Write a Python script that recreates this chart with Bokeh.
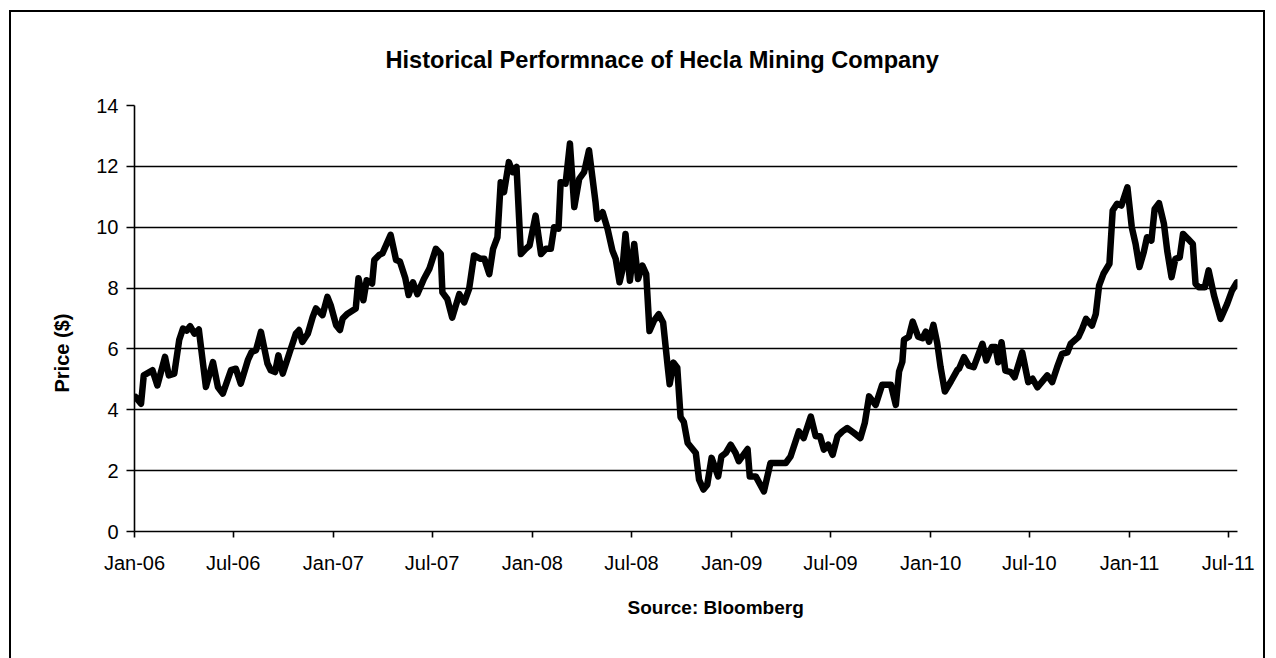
import pandas as pd
from bokeh.plotting import figure
from bokeh.models import FixedTicker, DatetimeTickFormatter, Range1d, Title
from bokeh.embed import file_html
from bokeh.resources import INLINE

dates = [
    "2006-01-03", "2006-01-13", "2006-01-18", "2006-02-03", "2006-02-12", "2006-02-26", "2006-03-05",
    "2006-03-15", "2006-03-24", "2006-03-31", "2006-04-07", "2006-04-13", "2006-04-21", "2006-04-29",
    "2006-05-12", "2006-05-25", "2006-06-03", "2006-06-12", "2006-06-27", "2006-07-06", "2006-07-15",
    "2006-07-28", "2006-08-04", "2006-08-12", "2006-08-21", "2006-09-02", "2006-09-08", "2006-09-16",
    "2006-09-22", "2006-09-30", "2006-10-12", "2006-10-24", "2006-10-30", "2006-11-05", "2006-11-15",
    "2006-11-24", "2006-11-30", "2006-12-12", "2006-12-21", "2006-12-27", "2007-01-06", "2007-01-13",
    "2007-01-18", "2007-01-27", "2007-02-11", "2007-02-16", "2007-02-25", "2007-03-03", "2007-03-13",
    "2007-03-17", "2007-03-26", "2007-04-01", "2007-04-16", "2007-04-26", "2007-05-03", "2007-05-13",
    "2007-05-19", "2007-05-27", "2007-06-04", "2007-06-16", "2007-06-26", "2007-07-08", "2007-07-17",
    "2007-07-20", "2007-07-29", "2007-08-07", "2007-08-20", "2007-08-29", "2007-09-07", "2007-09-16",
    "2007-09-28", "2007-10-05", "2007-10-14", "2007-10-21", "2007-10-29", "2007-11-04", "2007-11-10",
    "2007-11-19", "2007-11-26", "2007-12-03", "2007-12-11", "2007-12-20", "2007-12-27", "2008-01-07",
    "2008-01-17", "2008-01-26", "2008-02-04", "2008-02-10", "2008-02-18", "2008-02-22", "2008-03-02",
    "2008-03-10", "2008-03-18", "2008-03-27", "2008-04-05", "2008-04-14", "2008-04-26", "2008-04-29",
    "2008-05-09", "2008-05-18", "2008-05-27", "2008-06-02", "2008-06-09", "2008-06-14", "2008-06-20",
    "2008-06-28", "2008-07-06", "2008-07-13", "2008-07-21", "2008-07-28", "2008-08-03", "2008-08-11",
    "2008-08-20", "2008-08-28", "2008-09-05", "2008-09-09", "2008-09-16", "2008-09-23", "2008-09-29",
    "2008-10-05", "2008-10-12", "2008-10-27", "2008-11-02", "2008-11-10", "2008-11-17", "2008-11-25",
    "2008-12-07", "2008-12-13", "2008-12-21", "2008-12-30", "2009-01-08", "2009-01-14", "2009-01-30",
    "2009-02-03", "2009-02-14", "2009-03-01", "2009-03-13", "2009-03-23", "2009-04-10", "2009-04-19",
    "2009-05-04", "2009-05-13", "2009-05-26", "2009-06-04", "2009-06-12", "2009-06-19", "2009-06-27",
    "2009-07-05", "2009-07-14", "2009-07-23", "2009-08-01", "2009-08-13", "2009-08-25", "2009-09-02",
    "2009-09-10", "2009-09-22", "2009-10-04", "2009-10-20", "2009-10-29", "2009-11-04", "2009-11-10",
    "2009-11-13", "2009-11-22", "2009-11-29", "2009-12-09", "2009-12-17", "2009-12-23", "2009-12-29",
    "2010-01-06", "2010-01-13", "2010-01-19", "2010-01-27", "2010-02-07", "2010-02-19", "2010-02-22",
    "2010-03-03", "2010-03-12", "2010-03-21", "2010-04-06", "2010-04-13", "2010-04-23", "2010-04-30",
    "2010-05-05", "2010-05-11", "2010-05-18", "2010-05-28", "2010-06-04", "2010-06-18", "2010-06-29",
    "2010-07-07", "2010-07-16", "2010-07-26", "2010-08-03", "2010-08-12", "2010-08-21", "2010-08-30",
    "2010-09-09", "2010-09-15", "2010-09-29", "2010-10-06", "2010-10-13", "2010-10-24", "2010-10-31",
    "2010-11-06", "2010-11-14", "2010-11-25", "2010-12-01", "2010-12-09", "2010-12-17", "2010-12-28",
    "2011-01-05", "2011-01-12", "2011-01-19", "2011-01-27", "2011-02-02", "2011-02-10", "2011-02-16",
    "2011-02-24", "2011-03-05", "2011-03-11", "2011-03-19", "2011-03-26", "2011-04-03", "2011-04-09",
    "2011-04-18", "2011-04-27", "2011-05-02", "2011-05-08", "2011-05-19", "2011-05-26", "2011-06-05",
    "2011-06-17", "2011-06-29", "2011-07-08", "2011-07-17",
]

prices = [
    4.42, 4.20, 5.13, 5.30, 4.80, 5.74, 5.13,
    5.19, 6.29, 6.67, 6.60, 6.75, 6.50, 6.64,
    4.75, 5.57, 4.75, 4.53, 5.30, 5.35, 4.86,
    5.63, 5.90, 5.96, 6.56, 5.52, 5.30, 5.24,
    5.79, 5.19, 5.85, 6.50, 6.62, 6.23, 6.50,
    7.05, 7.33, 7.11, 7.71, 7.44, 6.78, 6.62,
    7.00, 7.16, 7.33, 8.32, 7.60, 8.26, 8.15,
    8.92, 9.09, 9.14, 9.75, 8.92, 8.87, 8.32,
    7.77, 8.19, 7.80, 8.30, 8.63, 9.29, 9.12,
    7.86, 7.64, 7.03, 7.80, 7.53, 7.97, 9.07,
    8.96, 8.96, 8.46, 9.29, 9.67, 11.48, 11.15,
    12.14, 11.81, 11.98, 9.12, 9.29, 9.40, 10.38,
    9.12, 9.29, 9.29, 10.00, 9.95, 11.48, 11.43,
    12.75, 10.66, 11.59, 11.81, 12.53, 10.82, 10.27,
    10.49, 9.95, 9.23, 8.96, 8.19, 8.57, 9.78,
    8.24, 9.45, 8.30, 8.74, 8.46, 6.59, 6.92,
    7.14, 6.87, 5.49, 4.84, 5.55, 5.38, 3.76,
    3.60, 2.91, 2.58, 1.70, 1.38, 1.54, 2.42,
    1.81, 2.47, 2.58, 2.85, 2.58, 2.31, 2.71,
    1.81, 1.81, 1.32, 2.25, 2.25, 2.25, 2.47,
    3.29, 3.07, 3.78, 3.13, 3.13, 2.69, 2.85,
    2.52, 3.13, 3.29, 3.40, 3.24, 3.07, 3.56,
    4.44, 4.16, 4.82, 4.82, 4.16, 5.26, 5.58,
    6.30, 6.40, 6.90, 6.40, 6.35, 6.57, 6.24,
    6.79, 6.19, 5.42, 4.60, 4.93, 5.31, 5.35,
    5.73, 5.45, 5.40, 6.17, 5.62, 6.06, 6.06,
    5.56, 6.22, 5.29, 5.24, 5.07, 5.89, 4.91,
    5.02, 4.74, 4.96, 5.13, 4.91, 5.40, 5.84,
    5.89, 6.17, 6.39, 6.66, 6.99, 6.77, 7.15,
    8.08, 8.47, 8.80, 10.55, 10.77, 10.71, 11.31,
    10.00, 9.45, 8.69, 9.18, 9.67, 9.56, 10.60,
    10.79, 10.11, 9.23, 8.36, 8.96, 9.01, 9.78,
    9.62, 9.45, 8.14, 8.03, 8.03, 8.58, 7.75,
    6.99, 7.48, 7.92, 8.19,
]

tick_dates = ["2006-01-01", "2006-07-01", "2007-01-01", "2007-07-01", "2008-01-01", "2008-07-01",
              "2009-01-01", "2009-07-01", "2010-01-01", "2010-07-01", "2011-01-01", "2011-07-01"]
y_ticks = [0, 2, 4, 6, 8, 10, 12, 14]

title_text = "Historical Performnace of Hecla Mining Company"
x_label = "Source: Bloomberg"
y_label = "Price ($)"

x = pd.to_datetime(dates)
tick_ms = [pd.Timestamp(d).value // 10**6 for d in tick_dates]

FONT = "Liberation Sans"

p = figure(
    width=1252, height=646,
    x_axis_type="datetime",
    output_backend="svg", toolbar_location=None,
    x_range=Range1d(pd.Timestamp("2006-01-01"), pd.Timestamp("2011-07-18")),
    y_range=Range1d(0, 14),
)
p.styles = {"margin-left": "9px", "margin-top": "10px",
            "border-left": "2px solid black", "border-top": "2px solid black",
            "border-right": "2px solid black"}

p.frame_width = 1103
p.frame_height = 426
p.min_border_left = 123
p.min_border_right = 26
p.min_border_top = 93
p.min_border_bottom = 127

t_top = Title(text=title_text, align="left", offset=251, standoff=65,
              text_font=FONT, text_font_size="23.6px", text_font_style="bold", text_color="black")
p.add_layout(t_top, "above")

t_bottom = Title(text=x_label, align="left", offset=493, standoff=36,
                 text_font=FONT, text_font_size="19px", text_font_style="bold", text_color="black")
p.add_layout(t_bottom, "below")

t_left = Title(text=y_label, align="left", offset=139, standoff=42,
               text_font=FONT, text_font_size="20px", text_font_style="bold", text_color="black")
p.add_layout(t_left, "left")

p.line(x, prices, line_color="black", line_width=6.5, line_join="round", line_cap="round")

p.xgrid.grid_line_color = None
p.ygrid.grid_line_color = "black"
p.ygrid.grid_line_width = 1.6
p.ygrid.ticker = FixedTicker(ticks=y_ticks)
p.outline_line_color = None

p.xaxis.ticker = FixedTicker(ticks=tick_ms)
fmt = "%b-%y"
p.xaxis.formatter = DatetimeTickFormatter(days=fmt, months=fmt, years=fmt, hours=fmt, minutes=fmt)
p.yaxis.ticker = FixedTicker(ticks=y_ticks)

for ax in (p.xaxis[0], p.yaxis[0]):
    ax.axis_line_color = "black"
    ax.axis_line_width = 1.6
    ax.major_tick_line_color = "black"
    ax.major_tick_line_width = 1.6
    ax.minor_tick_line_color = None
    ax.major_tick_in = 0
    ax.major_label_text_font = FONT
    ax.major_label_text_font_size = "20px"
    ax.major_label_text_color = "black"

p.xaxis.major_tick_out = 6
p.xaxis.major_label_standoff = 14
p.yaxis.major_tick_out = 8
p.yaxis.major_label_standoff = 8

open("out.html", "w").write(file_html(p, INLINE))
